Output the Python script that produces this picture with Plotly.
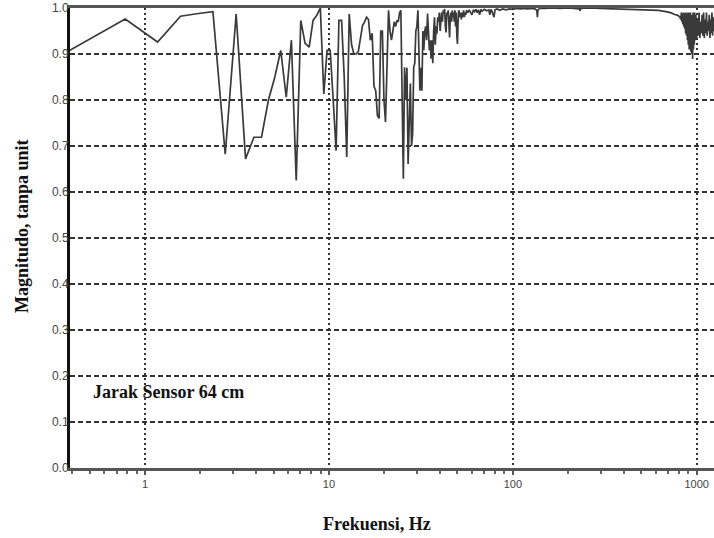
import plotly.graph_objects as go

# Coherence magnitude vs frequency, sensor spacing 64 cm
# Low band: FFT bins of 0.39 Hz up to ~51 Hz
freq_low = [
    0.39, 0.78, 1.17, 1.56, 1.95, 2.34, 2.73, 3.13, 3.52, 3.91,
    4.30, 4.69, 5.08, 5.47, 5.86, 6.25, 6.64, 7.03, 7.42, 7.81,
    8.20, 8.59, 8.98, 9.38, 9.77, 10.16, 10.55, 10.94, 11.33, 11.72,
    12.11, 12.50, 12.89, 13.28, 13.67, 14.06, 14.45, 14.84, 15.23, 15.63,
    16.02, 16.41, 16.80, 17.19, 17.58, 17.97, 18.36, 18.75, 19.14, 19.53,
    19.92, 20.31, 20.70, 21.09, 21.48, 21.88, 22.27, 22.66, 23.05, 23.44,
    23.83, 24.22, 24.61, 25.00, 25.39, 25.78, 26.17, 26.56, 26.95, 27.34,
    27.73, 28.13, 28.52, 28.91, 29.30, 29.69, 30.08, 30.47, 30.86, 31.25,
    31.64, 32.03, 32.42, 32.81, 33.20, 33.59, 33.98, 34.38, 34.77, 35.16,
    35.55, 35.94, 36.33, 36.72, 37.11, 37.50, 37.89, 38.28, 38.67, 39.06,
    39.45, 39.84, 40.23, 40.63, 41.02, 41.41, 41.80, 42.19, 42.58, 42.97,
    43.36, 43.75, 44.14, 44.53, 44.92, 45.31, 45.70, 46.09, 46.48, 46.88,
    47.27, 47.66, 48.05, 48.44, 48.83, 49.22, 49.61, 50.00, 50.39, 50.78,
    51.17,
]
mag_low = [
    0.908, 0.976, 0.926, 0.982, 0.988, 0.992, 0.682, 0.987, 0.672, 0.719,
    0.719, 0.800, 0.850, 0.908, 0.806, 0.930, 0.625, 0.973, 0.923, 0.915,
    0.973, 0.984, 1.000, 0.813, 0.908, 0.908, 0.800, 0.690, 0.973, 0.973,
    0.850, 0.676, 0.987, 0.920, 0.900, 0.900, 0.905, 0.940, 0.962, 0.970,
    0.980, 0.975, 0.930, 0.945, 0.830, 0.820, 0.766, 0.760, 0.950, 0.950,
    0.800, 0.752, 0.900, 0.995, 0.950, 0.930, 0.950, 0.970, 0.960, 0.973,
    0.970, 0.990, 0.995, 0.800, 0.629, 0.871, 0.800, 0.870, 0.661, 0.750,
    0.836, 0.700, 0.727, 0.871, 0.880, 0.950, 0.960, 0.995, 0.870, 0.820,
    0.870, 0.820, 0.950, 0.908, 0.950, 0.960, 0.930, 0.988, 0.950, 0.908,
    0.930, 0.890, 0.930, 0.880, 0.950, 0.980, 0.920, 0.960, 0.944, 0.980,
    0.970, 0.990, 0.950, 0.985, 0.990, 0.970, 0.995, 0.990, 0.998, 0.960,
    0.947, 0.990, 0.985, 0.995, 0.960, 0.936, 0.980, 0.990, 0.970, 0.995,
    0.980, 0.990, 0.970, 0.995, 0.960, 0.990, 0.940, 0.922, 0.970, 0.995,
    0.990,
]

# Mid band: 51 Hz to ~800 Hz, close to unity
freq_mid = [
    51.6, 52.0, 52.5, 53.0, 53.5, 54.0, 54.5, 55.0, 55.5, 56,
    57, 58, 59, 60, 61, 62, 63, 64, 65, 66,
    67, 68, 70, 72, 74, 75, 76, 77, 79, 80,
    82, 85, 88, 92, 96, 100, 105, 110, 115, 120,
    126, 132, 135, 136, 137, 140, 150, 165, 180, 200,
    230, 232, 234, 260, 300, 350, 400, 450, 500, 560,
    620, 680, 720, 760, 790, 810,
]
mag_mid = [
    0.980, 0.990, 0.975, 0.990, 0.980, 0.995, 0.980, 0.990, 0.985, 0.995,
    0.990, 0.996, 0.990, 0.985, 0.996, 0.992, 0.997, 0.990, 0.996, 0.985,
    0.997, 0.993, 0.997, 0.994, 0.996, 0.985, 0.997, 0.993, 0.980, 0.996,
    0.998, 0.995, 0.998, 0.996, 0.998, 0.997, 0.999, 0.998, 0.999, 0.998,
    0.999, 0.998, 0.995, 0.980, 0.996, 0.999, 0.999, 1.000, 0.999, 1.000,
    0.998, 0.994, 0.999, 1.000, 0.999, 0.998, 0.998, 0.997, 0.997, 0.996,
    0.995, 0.992, 0.990, 0.986, 0.984, 0.980,
]

# High band: noisy region around 1 kHz
freq_high = [
    820, 825, 830, 835, 840, 845, 850, 855, 860, 865,
    870, 875, 880, 885, 890, 895, 900, 905, 910, 915,
    920, 925, 930, 935, 940, 945, 950, 955, 960, 965,
    970, 975, 980, 990, 1000, 1010, 1020, 1030, 1040, 1050,
    1060, 1070, 1080, 1090, 1100, 1110, 1120, 1130, 1140, 1150,
    1160, 1170, 1180, 1190, 1200, 1210, 1220, 1230, 1240, 1250,
]
mag_high = [
    0.975, 0.990, 0.970, 0.985, 0.965, 0.990, 0.960, 0.985, 0.955, 0.990,
    0.945, 0.980, 0.940, 0.990, 0.930, 0.985, 0.920, 0.990, 0.910, 0.980,
    0.925, 0.990, 0.905, 0.985, 0.900, 0.975, 0.889, 0.990, 0.910, 0.980,
    0.920, 0.990, 0.930, 0.985, 0.935, 0.975, 0.940, 0.990, 0.935, 0.970,
    0.945, 0.985, 0.940, 0.990, 0.935, 0.975, 0.945, 0.990, 0.940, 0.970,
    0.950, 0.985, 0.935, 0.975, 0.945, 0.990, 0.940, 0.980, 0.950, 0.975,
]

freq = freq_low + freq_mid + freq_high
mag = mag_low + mag_mid + mag_high

x_tickvals = [1, 10, 100, 1000]
x_ticktext = ["1", "10", "100", "1000"]

fig = go.Figure()
fig.add_trace(go.Scatter(
    x=freq, y=mag, mode="lines",
    line=dict(color="#3a3a3a", width=1.7),
    showlegend=False, hoverinfo="skip",
))

serif_bold = dict(family="Liberation Serif", size=18, color="#111111", weight="bold")

fig.update_layout(
    width=714, height=538,
    margin=dict(l=70, r=0, t=8, b=70),
    paper_bgcolor="white", plot_bgcolor="white",
    xaxis=dict(
        type="log", range=[-0.408, 3.094],
        tickvals=x_tickvals, ticktext=x_ticktext,
        ticks="outside", ticklen=4, tickwidth=1.5, tickcolor="#555555",
        tickfont=dict(family="Liberation Sans", size=11, color="#444444"),
        showgrid=True, gridcolor="#333333", gridwidth=1.5, griddash="2px,3px",
        showline=True, linecolor="#555555", linewidth=2.5, mirror=True,
        minor=dict(ticks="outside", ticklen=3, tickwidth=1.5, tickcolor="#666666",
                   dtick="D1", showgrid=False),
        zeroline=False,
    ),
    yaxis=dict(
        range=[0, 1.0], dtick=0.1, tick0=0, tickformat=".1f",
        ticks="", ticklabelstandoff=-4,
        tickfont=dict(family="Liberation Sans", size=12, color="#444444"),
        showgrid=True, gridcolor="#333333", gridwidth=1.5, griddash="5px,3px",
        showline=True, linecolor="#111111", linewidth=3,
        zeroline=False,
    ),
    annotations=[
        dict(text="Jarak Sensor 64 cm", xref="paper", yref="paper",
             x=0.032, y=0.165, xanchor="left", yanchor="middle",
             showarrow=False, font=serif_bold),
        dict(text="Frekuensi, Hz", xref="paper", yref="paper",
             x=0.477, y=-0.122, xanchor="center", yanchor="middle",
             showarrow=False, font=serif_bold),
        dict(text="Magnitudo, tanpa unit", xref="paper", yref="paper",
             x=-0.0745, y=0.526, xanchor="center", yanchor="middle",
             textangle=-90, showarrow=False, font=serif_bold),
    ],
)

fig.write_html("out.html")
